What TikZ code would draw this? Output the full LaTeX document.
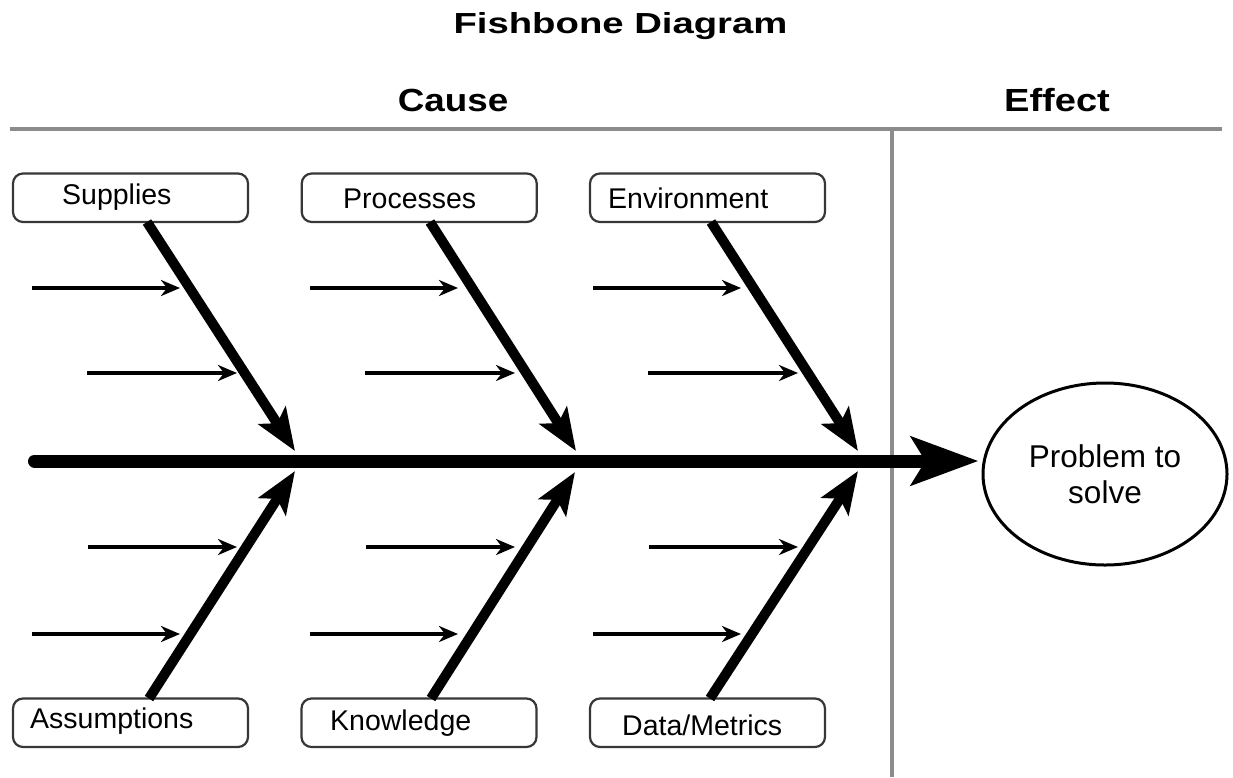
\documentclass[tikz,border=0pt]{standalone}
\usepackage{fontspec}
\setmainfont{Liberation Sans}
\usetikzlibrary{arrows.meta,shapes.geometric}
\definecolor{rulegray}{RGB}{140,140,140}
\definecolor{boxline}{RGB}{55,55,55}
\tikzset{
  rulestyle/.style={draw=rulegray, line width=3.5pt},
  catbox/.style={draw=boxline, line width=2.2pt, rounded corners=10pt, minimum width=235pt, minimum height=48.5pt, inner sep=0pt, fill=white},
  boxlabel/.style={anchor=base west, inner sep=0pt, font=\fontsize{28.5}{34}\selectfont},
  headtext/.style={anchor=base, inner sep=0pt},
  spine/.style={line width=13pt, line cap=round, -{Stealth[length=67pt,width=48pt,inset=14pt]}},
  bone/.style={line width=10pt, -{Stealth[length=42pt,width=32pt,inset=9pt]}},
  twig/.style={line width=4.5pt, -{Stealth[length=19pt,width=16pt,inset=6pt]}},
}
\begin{document}
\begin{tikzpicture}[x=1pt,y=-1pt]
\useasboundingbox (0,0) rectangle (1233,777);

% headings
\node[headtext] (title) at (620.5,33) {\fontsize{29}{34}\selectfont\scalebox{1.32}[1]{\bfseries Fishbone Diagram}};
\node[headtext] (cause) at (453,111) {\fontsize{32}{38}\selectfont\scalebox{1.15}[1]{\bfseries Cause}};
\node[headtext] (effect) at (1057,111) {\fontsize{32}{38}\selectfont\scalebox{1.19}[1]{\bfseries Effect}};

% rules
\coordinate (hl) at (10,129);
\coordinate (hr) at (1222,129);
\coordinate (vt) at (892,129);
\coordinate (vb) at (892,777);
\draw[rulestyle] (hl) -- (hr);
\draw[rulestyle] (vt) -- (vb);

% effect ellipse
\node[ellipse, draw, line width=3pt, minimum width=244pt, minimum height=182pt, inner sep=0pt, align=center, font=\fontsize{31.5}{36}\selectfont] (prob) at (1105,474) {Problem to\\solve};

% category boxes
\node[catbox] (bSup) at (130.5,197.75) {};
\node[catbox] (bPro) at (419.25,197.75) {};
\node[catbox] (bEnv) at (707.5,197.75) {};
\node[catbox] (bAss) at (130.5,722.75) {};
\node[catbox] (bKno) at (419,722.75) {};
\node[catbox] (bDat) at (707.5,722.75) {};

\node[boxlabel] (tSup) at (62,204) {Supplies};
\node[boxlabel] (tPro) at (343,208) {Processes};
\node[boxlabel] (tEnv) at (608,208) {Environment};
\node[boxlabel] (tAss) at (30,728) {Assumptions};
\node[boxlabel] (tKno) at (330,730) {Knowledge};
\node[boxlabel] (tDat) at (622,735) {Data/Metrics};

% spine
\coordinate (spineStart) at (34.5,461);
\draw[spine] (spineStart) -- ([xshift=-3pt]spineStart -| prob.west);

% bones
\coordinate (sSup) at (147,222);   \coordinate (eSup) at (295,451);
\coordinate (sPro) at (430,222);   \coordinate (ePro) at (576,451);
\coordinate (sEnv) at (711,222);   \coordinate (eEnv) at (858,451);
\coordinate (sAss) at (149,698.5); \coordinate (eAss) at (295,471);
\coordinate (sKno) at (431,698.5); \coordinate (eKno) at (575,472);
\coordinate (sDat) at (710,698.5); \coordinate (eDat) at (858,471);
\foreach \b in {Sup,Pro,Env,Ass,Kno,Dat}{
  \draw[bone] (s\b) -- (e\b);
}

% sub-cause arrows
\foreach \c/\dx in {1/0,2/278,3/561}{
  \coordinate (a\c1) at (32+\dx,288);  \coordinate (z\c1) at (180+\dx,288);
  \coordinate (a\c2) at (87+\dx,373);  \coordinate (z\c2) at (237+\dx,373);
  \coordinate (a\c3) at (88+\dx,547);  \coordinate (z\c3) at (237+\dx,547);
  \coordinate (a\c4) at (32+\dx,634);  \coordinate (z\c4) at (180+\dx,634);
  \foreach \r in {1,2,3,4}{
    \draw[twig] (a\c\r) -- (z\c\r);
  }
}
\end{tikzpicture}
\end{document}
